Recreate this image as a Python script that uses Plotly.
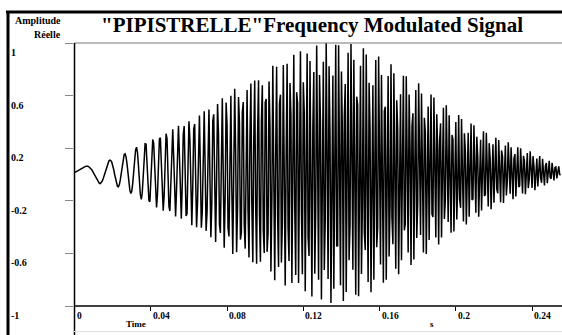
import numpy as np
import plotly.graph_objects as go

# ---- data ----
# envelope (peak amplitude) of the signal versus time (s)
ENV_T = [0.0, 0.0055, 0.0134, 0.019, 0.0265, 0.0375, 0.054, 0.063, 0.08, 0.10, 0.12, 0.135, 0.15, 0.16, 0.18, 0.20, 0.22, 0.24, 0.25, 0.2555]
ENV_A = [0.02, 0.04, 0.09, 0.09, 0.14, 0.23, 0.35, 0.42, 0.6, 0.79, 0.93, 1.0, 0.96, 0.88, 0.68, 0.45, 0.27, 0.15, 0.08, 0.03]
# instantaneous frequency (Hz) versus time (s), read from the spacing of the oscillations
FREQ_T = [0.0, 0.01, 0.016, 0.0227, 0.03, 0.035, 0.04, 0.045, 0.05, 0.055, 0.062, 0.08, 0.10, 0.12, 0.14, 0.20, 0.2555]
FREQ_HZ = [50, 63, 91, 131, 164, 204, 263, 285, 310, 340, 375, 450, 520, 580, 620, 620, 600]
OFFSET = 0.02

X_TICKS = [0, 0.04, 0.08, 0.12, 0.16, 0.2, 0.24]
X_TICK_TEXT = ["0", "0.04", "0.08", "0.12", "0.16", "0.2", "0.24"]
Y_TICKS = [1, 0.6, 0.2, -0.2, -0.6, -1]
Y_TICK_TEXT = ["1", "0.6", "0.2", "-0.2", "-0.6", "-1"]

TITLE = '"PIPISTRELLE"Frequency Modulated Signal'

# ---- build the sampled signal from the read envelope / frequency ----
fs = 2000.0
t = np.arange(0, 0.2552, 1 / fs)
freq = np.interp(t, FREQ_T, FREQ_HZ)
phase = 2 * np.pi * np.cumsum(freq) / fs
phase = phase - np.interp(0.0055, t, phase)
env = np.interp(t, ENV_T, ENV_A)
sig = OFFSET + env * np.cos(phase)

W, H = 562, 335
L, T, R, B = 74, 43, 0, 29
PW, PH = W - L - R, H - T - B
XMAX = 0.2557


def px(xp):
    return (xp - L) / PW


def py(yp):
    return (H - B - yp) / PH


fig = go.Figure()
fig.add_trace(go.Scatter(x=t, y=sig, mode="lines",
                         line=dict(color="black", width=1.5), hoverinfo="skip"))

font_b = "Liberation Serif"
shapes = []
# outer frame
shapes.append(dict(type="line", xref="paper", yref="paper", x0=px(6), x1=px(600), y0=py(12), y1=py(12),
                   line=dict(color="black", width=3)))
shapes.append(dict(type="line", xref="paper", yref="paper", x0=px(8), x1=px(8), y0=py(11), y1=py(340),
                   line=dict(color="black", width=3)))
# plot frame
shapes.append(dict(type="line", xref="paper", yref="paper", x0=px(74), x1=px(600), y0=py(43), y1=py(43),
                   line=dict(color="#777777", width=1.2)))
shapes.append(dict(type="line", xref="paper", yref="paper", x0=px(74.5), x1=px(74.5), y0=py(43), y1=py(340),
                   line=dict(color="black", width=1.5)))
shapes.append(dict(type="line", xref="paper", yref="paper", x0=px(74), x1=px(600), y0=py(306), y1=py(306),
                   line=dict(color="black", width=1.5)))
shapes.append(dict(type="line", xref="paper", yref="paper", x0=px(74), x1=px(600), y0=py(331.5), y1=py(331.5),
                   line=dict(color="#dddddd", width=1)))

ann = []
ann.append(dict(text="<b>" + TITLE + "</b>", xref="paper", yref="paper", x=px(312), y=py(25),
                xanchor="center", yanchor="middle", showarrow=False,
                font=dict(family=font_b, size=21, color="black")))
ann.append(dict(text="<b>Amplitude</b>", xref="paper", yref="paper", x=px(13), y=py(20),
                xanchor="left", yanchor="middle", showarrow=False,
                font=dict(family=font_b, size=10, color="black")))
ann.append(dict(text="<b>Réelle</b>", xref="paper", yref="paper", x=px(32), y=py(34),
                xanchor="left", yanchor="middle", showarrow=False,
                font=dict(family=font_b, size=10, color="black")))
for v, s in zip(Y_TICKS, Y_TICK_TEXT):
    ann.append(dict(text="<b>" + s + "</b>", xref="paper", yref="y", x=px(9), y=v,
                    xanchor="left", yanchor="top", yshift=-2, showarrow=False,
                    font=dict(family=font_b, size=10, color="black")))
for v, s in zip(X_TICKS, X_TICK_TEXT):
    ann.append(dict(text="<b>" + s + "</b>", xref="x", yref="paper", x=v, y=py(316),
                    xanchor="left", yanchor="middle", xshift=0, showarrow=False,
                    font=dict(family=font_b, size=9.5, color="black")))
ann.append(dict(text="<b>Time</b>", xref="paper", yref="paper", x=px(124), y=py(323.5),
                xanchor="left", yanchor="middle", showarrow=False,
                font=dict(family=font_b, size=9, color="black")))
ann.append(dict(text="<b>s</b>", xref="paper", yref="paper", x=px(428), y=py(323.5),
                xanchor="left", yanchor="middle", showarrow=False,
                font=dict(family=font_b, size=9, color="black")))

fig.update_layout(
    width=W, height=H,
    margin=dict(l=L, r=R, t=T, b=B, pad=0),
    paper_bgcolor="white", plot_bgcolor="white",
    showlegend=False,
    shapes=shapes, annotations=ann,
    xaxis=dict(range=[-0.0003, XMAX], showgrid=False, zeroline=False, showline=False,
               tickvals=X_TICKS, ticks="outside", ticklen=4, tickcolor="black", tickwidth=1.2,
               showticklabels=False, fixedrange=True),
    yaxis=dict(range=[-1, 1], showgrid=False, zeroline=False, showline=False,
               tickvals=Y_TICKS, ticks="outside", ticklen=8, tickcolor="#888888", tickwidth=1.2,
               showticklabels=False, fixedrange=True),
)

fig.write_html("out.html", config={"displayModeBar": False},
               post_script="document.body.style.margin='0';document.body.style.padding='0';"
                           "document.documentElement.style.overflow='hidden';")
